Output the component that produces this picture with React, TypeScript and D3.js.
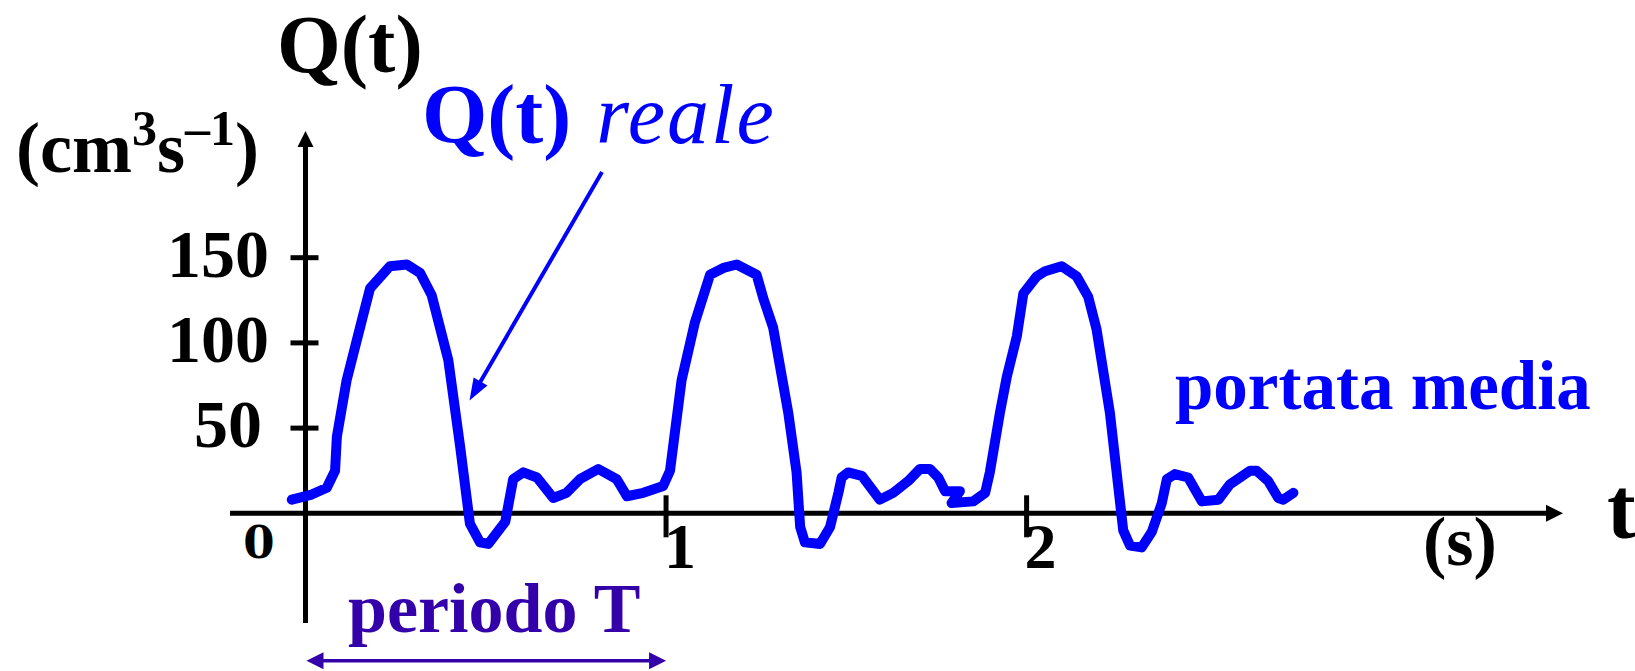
import React from "react";
import * as d3 from "d3";

// Flow rate Q(t) over time (s), three cardiac cycles
const timeSec = [
  -0.038, 0.017, 0.059, 0.082, 0.087, 0.114, 0.156, 0.179, 0.234, 0.281,
  0.318, 0.35, 0.396, 0.429, 0.456, 0.484, 0.507, 0.554, 0.576, 0.604,
  0.642, 0.687, 0.724, 0.761, 0.812, 0.863, 0.886, 0.891, 0.937, 0.992,
  1.011, 1.043, 1.08, 1.122, 1.159, 1.196, 1.251, 1.27, 1.297, 1.339,
  1.362, 1.372, 1.385, 1.427, 1.455, 1.478, 1.487, 1.505, 1.543, 1.593,
  1.63, 1.672, 1.704, 1.732, 1.755, 1.774, 1.815, 1.792, 1.852, 1.885,
  1.898, 1.926, 1.945, 1.973, 1.991, 2.028, 2.051, 2.097, 2.139, 2.171,
  2.194, 2.231, 2.254, 2.268, 2.287, 2.319, 2.347, 2.375, 2.389, 2.411,
  2.448, 2.486, 2.532, 2.564, 2.62, 2.638, 2.67, 2.698, 2.712, 2.74,
];
const flowQ = [
  8, 11, 15, 25, 45, 78, 113, 132, 145, 146,
  141, 128, 90, 39, -6, -17, -18, -5, 20, 24,
  21, 9, 12, 20, 26, 20, 12, 10, 12, 16,
  25, 78, 112, 140, 144, 146, 140, 126, 109, 59,
  24, -8, -17, -18, -8, 12, 21, 24, 22, 8,
  12, 19, 26, 26, 21, 13, 13, 6, 7, 12,
  24, 59, 80, 104, 129, 139, 142, 145, 139, 127,
  108, 59, 16, -10, -19, -20, -11, 6, 20, 23,
  21, 7, 8, 17, 25, 25, 19, 9, 8, 12,
];

const yTicks = [50, 100, 150];
const xTicks = [1, 2];
const originLabel = "0";
const periodT = 1;

const W = 1635;
const H = 671;
const FONT = "'Liberation Serif', 'Times New Roman', serif";
const BLUE = "#0000ff";
const PURPLE = "#3300aa";

export default function App() {
  const x = d3.scaleLinear().domain([0, 2]).range([305.5, 1026.6]);
  const y = d3.scaleLinear().domain([0, 150]).range([513.3, 257.7]);

  const pts: [number, number][] = timeSec.map((t, i) => [t, flowQ[i]]);
  const line = d3
    .line<[number, number]>()
    .x((d) => x(d[0]))
    .y((d) => y(d[1]))
    .curve(d3.curveLinear);

  const x0 = x(0);
  const y0 = y(0);
  const axisLeft = 230;
  const axisRight = 1563;
  const yTop = 131;
  const yBottom = 623;

  // pointer from the "Q(t) reale" label down to the curve
  const pStart: [number, number] = [602, 172];
  const pEnd: [number, number] = [469.5, 400.5];
  const ang = Math.atan2(pEnd[1] - pStart[1], pEnd[0] - pStart[0]);
  const headLen = 22;
  const headW = 8;
  const bx = pEnd[0] - headLen * Math.cos(ang);
  const by = pEnd[1] - headLen * Math.sin(ang);
  const nx = -Math.sin(ang);
  const ny = Math.cos(ang);

  const perY = 660.7;
  const perL = x(0) + 1;
  const perR = x(periodT);

  return (
    <svg
      width={W}
      height={H}
      style={{ position: "absolute", left: 0, top: 0, display: "block", background: "#fff" }}
      fontFamily={FONT}
    >
      {/* axes */}
      <line x1={axisLeft} y1={y0} x2={axisRight - 14} y2={y0} stroke="#000" strokeWidth={5} />
      <path d={`M${axisRight},${y0} L${axisRight - 17},${y0 - 8.5} L${axisRight - 17},${y0 + 8.5} Z`} fill="#000" />
      <line x1={x0} y1={yBottom} x2={x0} y2={yTop + 12} stroke="#000" strokeWidth={5} />
      <path d={`M${x0},${yTop} L${x0 - 8},${yTop + 16} L${x0 + 8},${yTop + 16} Z`} fill="#000" />

      {/* y ticks */}
      {yTicks.map((v) => (
        <g key={v}>
          <line x1={x0 - 15} x2={x0 + 13} y1={y(v)} y2={y(v)} stroke="#000" strokeWidth={5} />
          <text
            x={v === 50 ? 262 : 269}
            y={y(v) + 19}
            textAnchor="end"
            fontSize={68}
            fontWeight="bold"
            fill="#000"
          >
            {v}
          </text>
        </g>
      ))}

      {/* x ticks */}
      {xTicks.map((v) => (
        <g key={v}>
          <line x1={x(v)} x2={x(v)} y1={y0 - 18} y2={y0 + 24} stroke="#000" strokeWidth={5} />
          <text x={x(v) + 14} y={568} textAnchor="middle" fontSize={64} fontWeight="bold" fill="#000">
            {v}
          </text>
        </g>
      ))}
      <text
        x={259}
        y={558}
        textAnchor="middle"
        fontSize={45}
        fontWeight="bold"
        fontFamily="'DejaVu Serif', serif"
        fill="#000"
      >
        {originLabel}
      </text>

      {/* axis titles */}
      <text x={277} y={72} fontSize={82} fontWeight="bold" fill="#000">
        Q(t)
      </text>
      <text x={16} y={172} fontSize={72} fontWeight="bold" fill="#000">
        (cm
        <tspan dy={-27} fontSize={50}>3</tspan>
        <tspan dy={27} fontSize={72}>s</tspan>
        <tspan dy={-27} fontSize={50}>–1</tspan>
        <tspan dy={27} fontSize={72}>)</tspan>
      </text>
      <text x={1607} y={538} fontSize={86} fontWeight="bold" fill="#000">
        t
      </text>
      <text x={1423} y={565} fontSize={70} fontWeight="bold" fill="#000">
        (s)
      </text>

      {/* flow curve */}
      <path
        d={line(pts) ?? ""}
        fill="none"
        stroke={BLUE}
        strokeWidth={10}
        strokeLinejoin="round"
        strokeLinecap="round"
      />

      {/* labels */}
      <text x={422} y={143} fontSize={84} fill={BLUE}>
        <tspan fontWeight="bold">Q(t)</tspan>
        <tspan fontStyle="italic" dx={2} letterSpacing={2}> reale</tspan>
      </text>
      <line
        x1={pStart[0]}
        y1={pStart[1]}
        x2={bx + 2 * Math.cos(ang)}
        y2={by + 2 * Math.sin(ang)}
        stroke={BLUE}
        strokeWidth={4}
      />
      <path
        d={`M${pEnd[0]},${pEnd[1]} L${bx + nx * headW},${by + ny * headW} L${bx - nx * headW},${by - ny * headW} Z`}
        fill={BLUE}
      />
      <text x={1175} y={409} fontSize={69} fontWeight="bold" fill={BLUE}>
        portata media
      </text>

      {/* period marker */}
      <text x={348} y={632} fontSize={70} fontWeight="bold" fill={PURPLE}>
        periodo T
      </text>
      <line x1={perL + 14} x2={perR - 14} y1={perY} y2={perY} stroke={PURPLE} strokeWidth={3.5} />
      <path d={`M${perL},${perY} L${perL + 17},${perY - 8.5} L${perL + 17},${perY + 8.5} Z`} fill={PURPLE} />
      <path d={`M${perR},${perY} L${perR - 17},${perY - 8.5} L${perR - 17},${perY + 8.5} Z`} fill={PURPLE} />
    </svg>
  );
}
